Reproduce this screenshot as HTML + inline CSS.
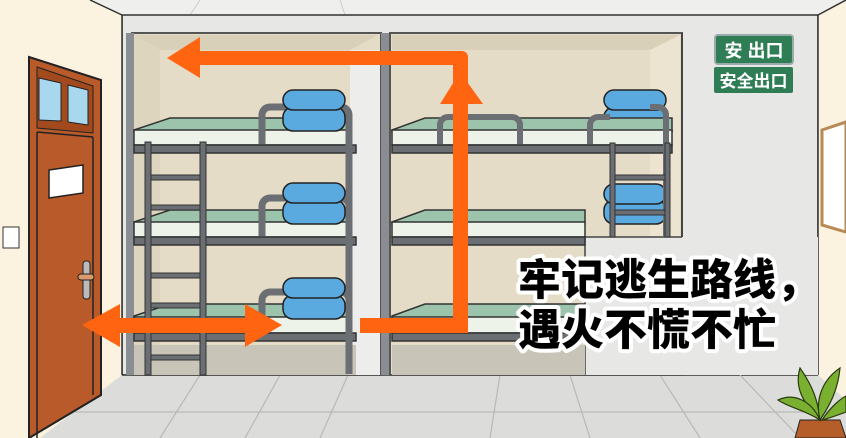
<!DOCTYPE html>
<html><head><meta charset="utf-8"><style>html,body{margin:0;padding:0;width:846px;height:438px;overflow:hidden;background:#f2f1ee}</style></head>
<body>
<svg width="846" height="438" viewBox="0 0 846 438" xmlns="http://www.w3.org/2000/svg">
<!-- ceiling -->
<rect x="0" y="0" width="846" height="20" fill="#efefed"/>
<line x1="200" y1="0" x2="190" y2="15" stroke="#ccc"/><line x1="340" y1="0" x2="345" y2="15" stroke="#ccc"/>
<!-- back wall -->
<rect x="122" y="15" width="696" height="360" fill="#e7e7e5" stroke="#333" stroke-width="1.5"/>
<!-- left wall -->
<polygon points="0,0 90,0 122,15 122,375 40,438 0,438" fill="#fbf3df"/>
<line x1="90" y1="0" x2="122" y2="15" stroke="#333" stroke-width="1.5"/>
<line x1="122" y1="15" x2="122" y2="375" stroke="#333" stroke-width="1.5"/>
<!-- right wall -->
<polygon points="818,15 846,0 846,438 818,375" fill="#fbf3df"/>
<line x1="818" y1="15" x2="818" y2="375" stroke="#333" stroke-width="1.5"/>
<line x1="818" y1="15" x2="846" y2="0" stroke="#333" stroke-width="1.5"/>
<polygon points="822,130 846,122 846,232 822,225" fill="#fff" stroke="#b88a55" stroke-width="3"/>
<!-- floor -->
<polygon points="122,375 818,375 846,400 846,438 40,438" fill="#dcdcda"/>
<line x1="122" y1="375" x2="818" y2="375" stroke="#333" stroke-width="1.5"/>
<g stroke="#b8b8b6" stroke-width="1.2">
<line x1="75" y1="412" x2="846" y2="412"/>
<line x1="200" y1="375" x2="160" y2="438"/><line x1="280" y1="375" x2="245" y2="438"/>
<line x1="348" y1="375" x2="320" y2="438"/><line x1="500" y1="375" x2="490" y2="438"/>
<line x1="570" y1="375" x2="590" y2="438"/><line x1="660" y1="375" x2="700" y2="438"/>
<line x1="740" y1="375" x2="800" y2="438"/>
</g>
<!-- left alcove -->
<rect x="132" y="33" width="249" height="342" fill="#e4dcc6" stroke="#555" stroke-width="2"/>
<polygon points="134,35 378,35 350,50 160,50" fill="#d8d0b8"/>
<polygon points="134,35 160,50 160,375 134,375" fill="#ddd5be"/>
<rect x="350" y="50" width="30" height="325" fill="#ededeb"/>
<rect x="126" y="33" width="8" height="342" fill="#8a8d92"/>
<rect x="381" y="33" width="9" height="342" fill="#8a8d92"/>
<!-- right alcove -->
<rect x="390" y="33" width="292" height="342" fill="#e4dcc6" stroke="#555" stroke-width="2"/>
<polygon points="392,35 680,35 650,50 392,50" fill="#d8d0b8"/>
<polygon points="650,50 680,35 680,236 650,236" fill="#ece4d0"/>
<rect x="585" y="237" width="233" height="138" fill="#e7e7e5"/>
<line x1="585" y1="237" x2="585" y2="375" stroke="#444" stroke-width="1.5"/>
<line x1="585" y1="237" x2="682" y2="237" stroke="#444" stroke-width="1.5"/>
<line x1="682" y1="33" x2="682" y2="237" stroke="#444" stroke-width="2"/>
<!-- left beds -->
<g stroke="#333" stroke-width="1.5">
<polygon points="134,130 170,118 350,118 350,132 134,132" fill="#9cc4ad"/>
<rect x="134" y="130" width="216" height="15" fill="#eef3ea"/>
<rect x="134" y="145" width="222" height="8" fill="#6b6e73"/>
<polygon points="134,222 170,210 350,210 350,224 134,224" fill="#9cc4ad"/>
<rect x="134" y="222" width="216" height="15" fill="#eef3ea"/>
<rect x="134" y="237" width="222" height="8" fill="#6b6e73"/>
<polygon points="134,316 170,304 350,304 350,318 134,318" fill="#9cc4ad"/>
<rect x="134" y="317" width="216" height="16" fill="#eef3ea"/>
<rect x="134" y="333" width="222" height="8" fill="#6b6e73"/>
<rect x="134" y="345" width="222" height="30" fill="#c9c4b8" stroke="none"/>
<path d="M349,374 V115 a8,8 0 0 0 -8,-8 H270 a8,8 0 0 0 -8,8 V144" fill="none" stroke="#6b6e73" stroke-width="7"/>
<path d="M349,374 V206 a8,8 0 0 0 -8,-8 H270 a8,8 0 0 0 -8,8 V236" fill="none" stroke="#6b6e73" stroke-width="7"/>
<path d="M349,374 V300 a8,8 0 0 0 -8,-8 H270 a8,8 0 0 0 -8,8 V332" fill="none" stroke="#6b6e73" stroke-width="7"/>
</g>
<g fill="#6b6e73" stroke="#333" stroke-width="1">
<rect x="145" y="142" width="6" height="233"/><rect x="200" y="142" width="6" height="233"/>
<rect x="151" y="175" width="49" height="5"/><rect x="151" y="205" width="49" height="5"/>
<rect x="151" y="273" width="49" height="5"/><rect x="151" y="303" width="49" height="5"/>
<rect x="151" y="355" width="49" height="5"/>
</g>
<!-- blankets -->
<g fill="#5aaae0" stroke="#222" stroke-width="1.5">
<rect x="283" y="107" width="62" height="24" rx="10"/><rect x="283" y="90" width="62" height="20" rx="10"/>
<rect x="283" y="200" width="62" height="24" rx="10"/><rect x="283" y="183" width="62" height="20" rx="10"/>
<rect x="283" y="295" width="62" height="24" rx="10"/><rect x="283" y="278" width="62" height="20" rx="10"/>
<rect x="604" y="107" width="62" height="24" rx="10"/><rect x="604" y="90" width="62" height="20" rx="10"/>
<rect x="604" y="200" width="62" height="24" rx="10"/><rect x="604" y="184" width="62" height="20" rx="10"/>
</g>
<!-- right beds -->
<g stroke="#333" stroke-width="1.5">
<polygon points="392,130 425,118 672,118 672,132 392,132" fill="#9cc4ad"/>
<rect x="392" y="130" width="280" height="15" fill="#eef3ea"/>
<rect x="392" y="145" width="280" height="8" fill="#6b6e73"/>
<polygon points="392,222 425,210 585,210 585,224 392,224" fill="#9cc4ad"/>
<rect x="392" y="222" width="193" height="15" fill="#eef3ea"/>
<rect x="392" y="237" width="193" height="8" fill="#6b6e73"/>
<polygon points="392,316 425,304 585,304 585,318 392,318" fill="#9cc4ad"/>
<rect x="392" y="317" width="193" height="16" fill="#eef3ea"/>
<rect x="392" y="333" width="193" height="8" fill="#6b6e73"/>
<rect x="392" y="345" width="193" height="30" fill="#c9c4b8" stroke="none"/>
</g>
<g fill="none" stroke="#6b6e73" stroke-width="6">
<path d="M440,144 V125 a8,8 0 0 1 8,-8 H512 a8,8 0 0 1 8,8 V144"/>
<path d="M590,144 V125 a8,8 0 0 1 8,-8 H610"/>
<path d="M666,236 V115 a8,8 0 0 0 -8,-8 H650"/>
<rect x="612" y="145" width="60" height="0"/>
</g>
<g fill="#6b6e73" stroke="#333" stroke-width="1">
<rect x="610" y="143" width="5" height="94"/><rect x="665" y="143" width="5" height="94"/>
<rect x="615" y="175" width="50" height="5"/><rect x="615" y="210" width="50" height="5"/>
</g>
<!-- exit signs -->
<rect x="715" y="35" width="78" height="29" rx="3" fill="#2e7d55" stroke="#9aa" stroke-width="2"/>
<text x="754" y="57" font-family="'Liberation Sans','Noto Sans CJK SC',sans-serif" font-size="18" font-weight="bold" fill="#fff" text-anchor="middle">安 出口</text>
<rect x="714" y="67" width="79" height="26" rx="2" fill="#2e7d55"/>
<text x="753.5" y="87" font-family="'Liberation Sans','Noto Sans CJK SC',sans-serif" font-size="17" font-weight="bold" fill="#fff" text-anchor="middle">安全出口</text>
<!-- door -->
<polygon points="29,57 101,80 101,395 29,438" fill="#b85a2a" stroke="#222" stroke-width="2"/>
<polygon points="37,67 93,86 93,133 37,128" fill="#a24a1e" stroke="#222" stroke-width="1"/>
<polygon points="39,78 61,83 61,121 39,120" fill="#a8d8ee" stroke="#222" stroke-width="1"/>
<polygon points="68,85 88,90 88,125 68,122" fill="#a8d8ee" stroke="#222" stroke-width="1"/>
<line x1="37" y1="132" x2="93" y2="137" stroke="#222" stroke-width="1.5"/>
<line x1="37" y1="132" x2="37" y2="438" stroke="#222" stroke-width="1.5"/>
<line x1="93" y1="137" x2="93" y2="395" stroke="#222" stroke-width="1.5"/>
<polygon points="49,170 83,165 83,193 49,198" fill="#fff" stroke="#222" stroke-width="1.5"/>
<rect x="83" y="261" width="7" height="38" rx="3" fill="#bbb" stroke="#222"/>
<rect x="78" y="274" width="16" height="6" rx="3" fill="#d99a6c" stroke="#222"/>
<rect x="3" y="227" width="16" height="21" fill="#fff" stroke="#333"/>
<!-- arrows -->
<g fill="#ff6411">
<path d="M167,58 L200,37 L200,51 L462,51 a6,6 0 0 1 6,6 V333 H360 V318 H453 V65 H200 V78 Z"/>
<polygon points="440,104 460,72 483,104 468,104 453,104"/>
<path d="M82,325 L120,304 L120,318 L245,318 L245,304 L282,325 L245,347 L245,333 L120,333 L120,347 Z"/>
</g>
<!-- plant -->
<g>
<path d="M795,438 L800,420 L840,420 L846,438 Z" fill="#b55e2a" stroke="#222"/>
<g fill="#7ab030" stroke="#2a3a10" stroke-width="1.2">
<path d="M820,420 C800,400 795,385 800,368 C812,385 818,400 820,420Z"/>
<path d="M820,420 C815,400 822,380 840,368 C838,390 830,405 820,420Z"/>
<path d="M820,420 C805,410 790,408 778,400 C795,392 812,402 820,420Z"/>
<path d="M822,420 C832,405 842,398 846,396 L846,412 C838,415 830,418 822,420Z"/>
</g>
</g>
<!-- caption -->
<g font-family="'Liberation Sans','Noto Sans CJK SC',sans-serif" font-size="43" font-weight="900" stroke-linejoin="round">
<text x="518" y="295" stroke="#fff" stroke-width="8" fill="#fff">牢记逃生路线，</text>
<text x="518" y="295" fill="#000">牢记逃生路线，</text>
<text x="518" y="345" stroke="#fff" stroke-width="8" fill="#fff">遇火不慌不忙</text>
<text x="518" y="345" fill="#000">遇火不慌不忙</text>
</g>
</svg>
</body></html>
